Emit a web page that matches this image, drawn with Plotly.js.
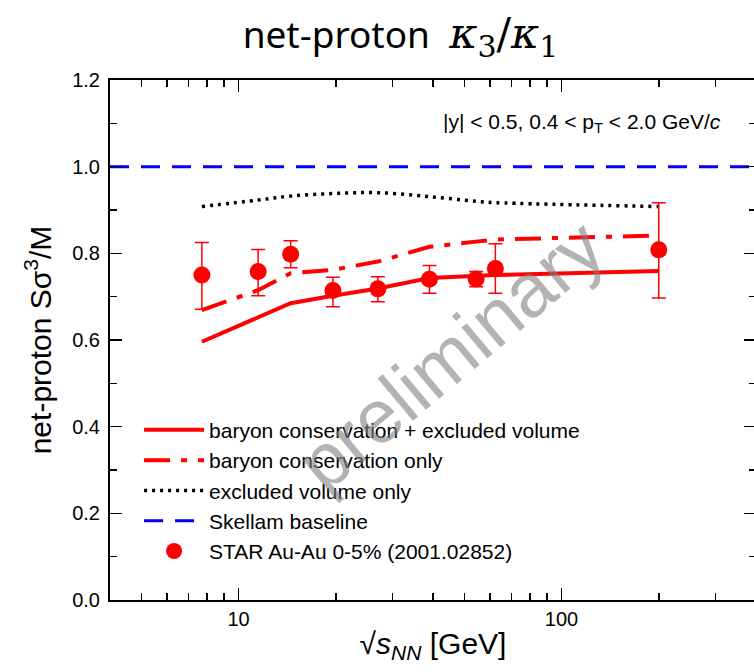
<!DOCTYPE html>
<html>
<head>
<meta charset="utf-8">
<script src="https://cdn.plot.ly/plotly-3.0.1.min.js"></script>
<style>html,body{margin:0;padding:0;overflow:hidden;background:#fff;}</style>
</head>
<body>
<div id="chart" style="width:760px;height:672px;"></div>
<script>
// Collision energies (GeV)
const energies = [7.7, 11.5, 14.5, 19.6, 27, 39, 54.4, 62.4, 200];
// STAR data
const starVals = [0.750, 0.758, 0.798, 0.714, 0.718, 0.740, 0.741, 0.765, 0.808];
const starErrPlus = [0.075, 0.051, 0.031, 0.031, 0.028, 0.032, 0.017, 0.057, 0.109];
const starErrMinus = [0.079, 0.056, 0.031, 0.037, 0.030, 0.032, 0.018, 0.057, 0.111];
// Model curves
const bcEvVals = [0.596, 0.652, 0.685, 0.702, 0.719, 0.743, 0.748, 0.750, 0.759];
const bcOnlyVals = [0.669, 0.715, 0.754, 0.762, 0.781, 0.815, 0.827, 0.832, 0.841];
const evOnlyVals = [0.908, 0.923, 0.932, 0.938, 0.940, 0.931, 0.920, 0.917, 0.908];
const skellamX = [4, 400];
const skellamY = [1.0, 1.0];
const legendNames = ["baryon conservation + excluded volume", "baryon conservation only",
  "excluded volume only", "Skellam baseline", "STAR Au-Au 0-5% (2001.02852)"];
const xTickVals = [10, 100];
const xTickText = ['10', '100'];
const xMinorVals = [5, 6, 7, 8, 9, 20, 30, 40, 50, 60, 70, 80, 90, 200, 300];

const traces = [
  {x: energies, y: bcEvVals, mode: 'lines', name: legendNames[0], legendgroup: 'a',
   line: {color: '#ff0000', width: 4}},
  {x: energies, y: bcOnlyVals, mode: 'lines', name: legendNames[1], legendgroup: 'b',
   line: {color: '#ff0000', width: 4, dash: '26px,11px,6px,11px'}},
  {x: energies, y: evOnlyVals, mode: 'lines', name: legendNames[2], legendgroup: 'c',
   line: {color: '#000000', width: 3.5, dash: '3px,5px', shape: 'spline'}},
  {x: skellamX, y: skellamY, mode: 'lines', name: legendNames[3], legendgroup: 'd',
   line: {color: '#0000ff', width: 3, dash: '19px,12px'}},
  {x: energies, y: starVals, mode: 'markers', name: legendNames[4], legendgroup: 'e',
   marker: {color: '#ff0000', size: 17},
   error_y: {type: 'data', symmetric: false, array: starErrPlus, arrayminus: starErrMinus,
     color: '#ff0000', thickness: 1.5, width: 7}}
];

const sans = 'Liberation Sans, Arial, sans-serif';
const axisFont = {family: sans, size: 20, color: '#000'};
const layout = {
  width: 760, height: 672,
  margin: {l: 110, r: 4, t: 80, b: 72},
  paper_bgcolor: '#fff', plot_bgcolor: '#fff',
  showlegend: true,
  title: {text: 'net-proton  <span style="font-size:43px;font-family:DejaVu Serif"><i>κ</i><sub>3</sub>/<i>κ</i><sub>1</sub></span>',
    font: {family: 'Noto Sans, sans-serif', size: 37, color: '#000'},
    x: 0.527, xanchor: 'center', y: 0.948, yanchor: 'middle'},
  xaxis: {
    type: 'log', range: [Math.log10(4), Math.log10(400)],
    tickvals: xTickVals, ticktext: xTickText,
    ticks: 'inside', ticklen: 12, tickwidth: 1.5, tickcolor: '#000',
    minor: {tickvals: xMinorVals, ticks: 'inside', ticklen: 7, tickwidth: 1.5, tickcolor: '#000', showgrid: false},
    showline: true, linecolor: '#000', linewidth: 2, mirror: 'ticks',
    showgrid: false, zeroline: false,
    tickfont: axisFont,
    title: {text: '√<i>s</i><sub><i>NN</i></sub> [GeV]', font: {family: sans, size: 30, color: '#000'}, standoff: 4}
  },
  yaxis: {
    range: [0, 1.2], dtick: 0.2, tick0: 0, tickformat: '.1f',
    ticks: 'inside', ticklen: 12, tickwidth: 1.5, tickcolor: '#000',
    minor: {dtick: 0.1, ticks: 'inside', ticklen: 7, tickwidth: 1.5, tickcolor: '#000', showgrid: false},
    showline: true, linecolor: '#000', linewidth: 2, mirror: 'ticks',
    showgrid: false, zeroline: false,
    tickfont: axisFont, ticklabelstandoff: 4,
    title: {text: 'net-proton Sσ<sup>3</sup>/M', font: {family: sans, size: 30, color: '#000'}, standoff: 12}
  },
  legend: {
    x: 0.045, y: 0.366, xanchor: 'left', yanchor: 'top',
    bgcolor: 'rgba(0,0,0,0)', borderwidth: 0,
    font: {family: sans, size: 21, color: '#000'},
    tracegroupgap: 0, itemwidth: 60
  },
  annotations: [
    {text: '|y| < 0.5, 0.4 < p<sub>T</sub> < 2.0 GeV/<i>c</i>', xref: 'paper', yref: 'paper',
     x: 0.949, y: 0.918, xanchor: 'right', yanchor: 'middle', showarrow: false,
     font: {family: sans, size: 21, color: '#000'}},
    {text: 'preliminary', xref: 'paper', yref: 'paper', x: 0.527, y: 0.473,
     xanchor: 'center', yanchor: 'middle', showarrow: false, textangle: -40,
     font: {family: sans, size: 76, color: 'rgba(128,128,128,0.6)'}}
  ]
};
Plotly.newPlot('chart', traces, layout, {displayModeBar: false, staticPlot: true});
</script>
</body>
</html>
